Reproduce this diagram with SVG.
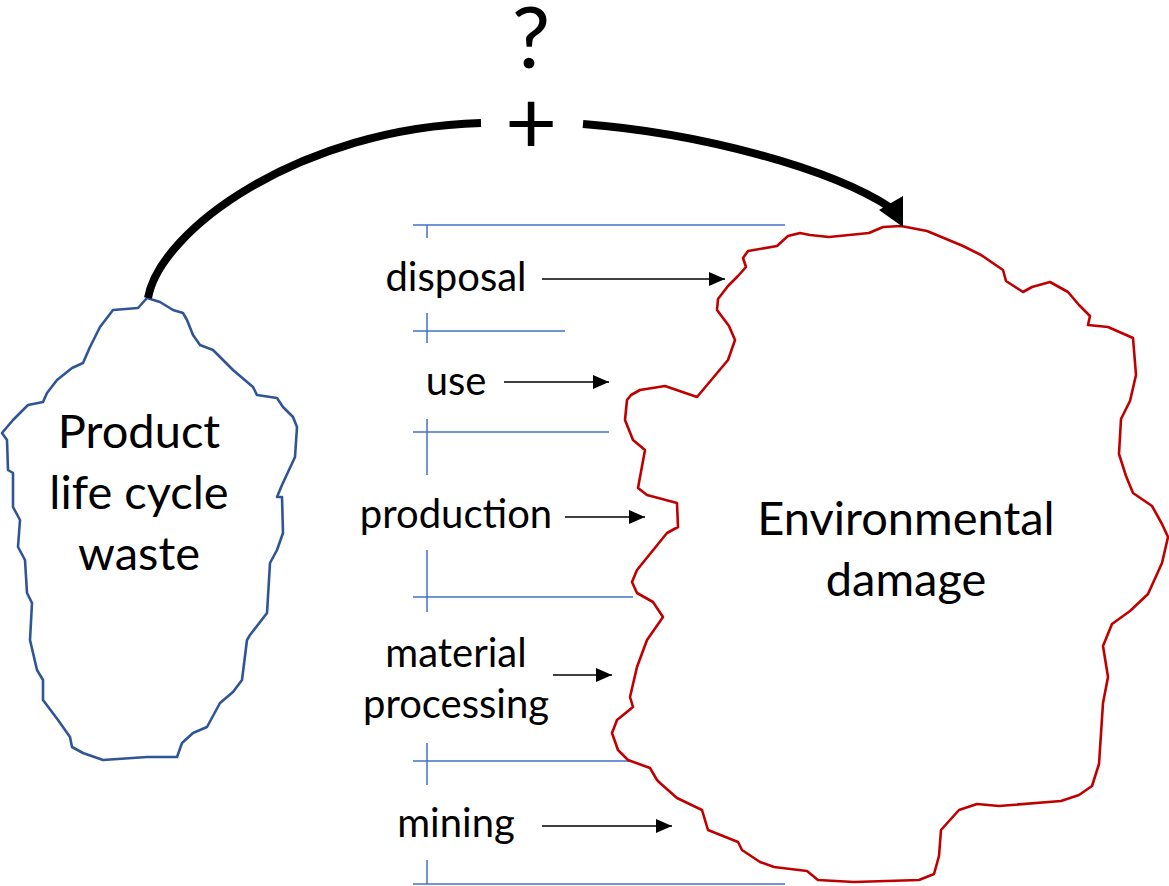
<svg xmlns="http://www.w3.org/2000/svg" width="1169" height="886" viewBox="0 0 1169 886">
<defs>
<style>
.lbl{font-family:Lato,"Open Sans","Liberation Sans",sans-serif;font-size:40px;fill:#000;text-anchor:middle}
.node{font-family:Lato,"Open Sans","Liberation Sans",sans-serif;font-size:47px;fill:#000;text-anchor:middle}
.big{font-family:Lato,"Open Sans","Liberation Sans",sans-serif;fill:#000;text-anchor:middle}
.grid{stroke:#4472C4;stroke-width:1.5;fill:none}
.arr{stroke:#000;stroke-width:1.6;fill:none;marker-end:url(#ah)}
</style>
<marker id="ah" markerUnits="userSpaceOnUse" markerWidth="16" markerHeight="14" refX="16" refY="7" orient="auto">
<path d="M0,0 L16,7 L0,14 z" fill="#000"/>
</marker>
</defs>
<rect width="1169" height="886" fill="#fff"/>

<g id="stage-lines">
<path class="grid" d="M413,225 H785 M427,225 V238 M413,331 H565 M427,313 V343 M413,432 H609 M427,419 V475 M413,597 H633 M427,550 V612 M413,761 H633 M427,743 V785 M413,884 H785 M427,860 V884"/>
</g>

<g id="waste">
<path fill="#fff" stroke="#2F5597" stroke-width="2.6" stroke-linejoin="round" d="M147,298 L138,308 L113,310 L100,327 L90,347 L83,363 L72,368 L57,380 L47,393 L43,402 L28,405 L13,420 L2,433 L7,440 L8,470 L13,473 L13,507 L20,520 L18,547 L25,560 L27,593 L32,603 L30,640 L37,670 L43,680 L43,700 L58,720 L70,737 L72,747 L83,753 L103,760 L147,757 L177,757 L182,743 L193,733 L207,727 L220,703 L233,692 L242,680 L247,640 L250,635 L267,613 L270,563 L277,550 L283,533 L282,497 L277,497 L282,485 L295,457 L297,427 L293,417 L283,407 L277,398 L257,395 L253,387 L233,370 L213,350 L200,345 L193,335 L187,320 L183,313 L173,310 L160,302 Z"/>
<text class="node" x="139" y="448">Product</text>
<text class="node" x="139" y="509">life cycle</text>
<text class="node" x="139" y="570">waste</text>
</g>

<g id="damage">
<path fill="#fff" stroke="#C00000" stroke-width="2.6" stroke-linejoin="round" d="M901,226 L927,231 L963,246 L981,255 L1003,270 L1006,281 L1023,292 L1032,287 L1050,282 L1068,292 L1079,305 L1090,316 L1088,325 L1108,327 L1133,338 L1136,375 L1130,401 L1121,419 L1119,454 L1126,476 L1133,493 L1152,506 L1162,524 L1168,537 L1162,563 L1148,594 L1130,611 L1112,624 L1103,646 L1108,677 L1103,703 L1099,764 L1092,786 L1079,795 L1061,801 L999,806 L977,804 L959,810 L941,830 L939,856 L934,874 L919,880 L854,882 L818,880 L807,871 L774,867 L760,862 L742,850 L738,842 L708,830 L702,810 L677,798 L660,783 L657,780 L650,768 L628,760 L618,750 L612,733 L617,720 L633,707 L630,697 L637,667 L647,640 L663,617 L653,602 L637,593 L632,582 L637,570 L667,533 L678,527 L677,503 L647,495 L638,488 L645,450 L633,440 L625,420 L627,400 L631,395 L640,390 L665,386 L697,397 L728,360 L735,340 L729,326 L717,310 L718,299 L728,286 L738,276 L746,267 L743,258 L748,251 L777,246 L788,236 L800,233 L810,235 L829,237 L869,233 L883,227 Z"/>
<text class="node" x="906" y="535">Environmental</text>
<text class="node" x="906" y="596">damage</text>
</g>

<g id="labels">
<text class="lbl" x="456" y="291">disposal</text>
<text class="lbl" x="456" y="395">use</text>
<text class="lbl" x="456" y="528">production</text>
<text class="lbl" x="456" y="667">material</text>
<text class="lbl" x="456" y="718">processing</text>
<text class="lbl" x="456" y="837">mining</text>
</g>

<g id="connectors">
<path class="arr" d="M542,279 H725"/>
<path class="arr" d="M504,382 H609"/>
<path class="arr" d="M565,517 H645"/>
<path class="arr" d="M553,675 H612"/>
<path class="arr" d="M542,826 H672"/>
<path d="M148,298 C160,230 300,128 481,123" fill="none" stroke="#000" stroke-width="8"/>
<path d="M583,124 C700,133 830,168 891,208" fill="none" stroke="#000" stroke-width="8"/>
<polygon points="903,227 879,210 903,196" fill="#000"/>
</g>

<g id="sign">
<text class="big" x="531" y="68" font-size="86">?</text>
<text class="big" x="531" y="154" font-size="90">+</text>
</g>
</svg>
